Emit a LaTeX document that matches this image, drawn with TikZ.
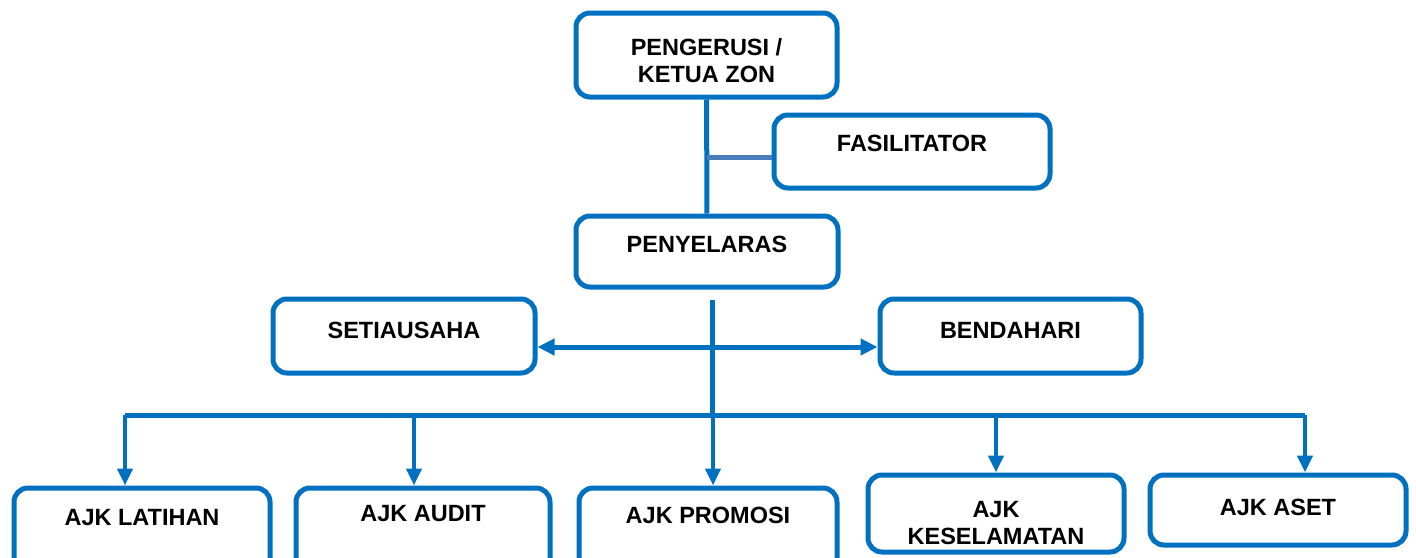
\documentclass[tikz,border=0pt]{standalone}
\usepackage{fontspec}
\setmainfont{Liberation Sans}
\usetikzlibrary{arrows.meta, positioning}
\definecolor{orgblue}{HTML}{0070C0}
\definecolor{orgsteel}{HTML}{4A7EBB}

\begin{document}
\begin{tikzpicture}[
        x=1pt, y=-1pt,
        orgbox/.style={
            draw=orgblue,
            line width=5pt,
            rounded corners=14pt,
            inner xsep=0pt,
            inner ysep=0pt,
            font=\fontsize{23.5}{27}\selectfont\bfseries,
            align=center
        },
        orglink/.style={line width=5pt, orgblue},
        droplink/.style={-{Triangle[length=17pt, width=15pt]}, line width=4.5pt, orgblue},
        sidelink/.style={{Triangle[length=17pt, width=16pt]}-{Triangle[length=17pt, width=16pt]}, line width=5pt, orgblue},
        faslink/.style={line width=5pt, orgsteel}
    ]
        \path[use as bounding box] (0,0) rectangle (1416,557);
        \clip (0,0) rectangle (1416,557);

        % top of the chart
        \node[orgbox, minimum width=261pt, minimum height=84pt] (ketua) at (706.5,55)
            {\rule{0pt}{29pt}PENGERUSI /\\KETUA ZON};
        \node[orgbox, minimum width=276pt, text height=36.5pt, text depth=36.5pt] (fasilitator) at (912,151.5)
            {FASILITATOR};
        \node[orgbox, minimum width=262pt, text height=36.5pt, text depth=34.5pt] (penyelaras) at (707,251.5)
            {PENYELARAS};
        \node[orgbox, minimum width=262pt, text height=39.5pt, text depth=34.5pt] (setiausaha) at (404,336)
            {SETIAUSAHA};
        \node[orgbox, minimum width=261pt, text height=39.5pt, text depth=34.5pt] (bendahari) at (1010.5,336)
            {BENDAHARI};

        % committees
        \node[orgbox, minimum width=256pt, text height=37.5pt, text depth=54.5pt] (latihan) at (142,534)
            {AJK LATIHAN};
        \node[orgbox, minimum width=254pt, text height=33.5pt, text depth=58.5pt] (audit) at (423,534)
            {AJK AUDIT};
        \node[orgbox, minimum width=258pt, text height=35.5pt, text depth=56.5pt] (promosi) at (708,534)
            {AJK PROMOSI};
        \node[orgbox, minimum width=256pt, minimum height=77pt] (keselamatan) at (996,513.5)
            {\rule{0pt}{36pt}AJK\\KESELAMATAN};
        \node[orgbox, minimum width=256pt, text height=40.5pt, text depth=29.5pt] (aset) at (1278,510)
            {AJK ASET};

        \coordinate (fasjoin) at (707,157);
        \coordinate (trunktop) at (712,300);
        \coordinate (sidebar) at (712,347);
        \coordinate (bus) at (712,415);
        \coordinate (drop1) at (125,415);
        \coordinate (drop2) at (414,415);
        \coordinate (drop3) at (713,415);
        \coordinate (drop4) at (996,415);
        \coordinate (drop5) at (1305,415);

        \draw[orglink] (ketua) -- (penyelaras);
        \draw[faslink] (fasjoin) -- (fasjoin -| fasilitator.west);
        \draw[orglink] (trunktop) -- (bus);
        \draw[sidelink] (sidebar -| setiausaha.east) -- (sidebar -| bendahari.west);
        \draw[orglink] (drop1) -- (drop5);

        \draw[droplink] (drop1) -- (drop1 |- latihan.north);
        \draw[droplink] (drop2) -- (drop2 |- audit.north);
        \draw[droplink] (drop3) -- (drop3 |- promosi.north);
        \draw[droplink] (drop4) -- (drop4 |- keselamatan.north);
        \draw[droplink] (drop5) -- (drop5 |- aset.north);
    \end{tikzpicture}
\end{document}
